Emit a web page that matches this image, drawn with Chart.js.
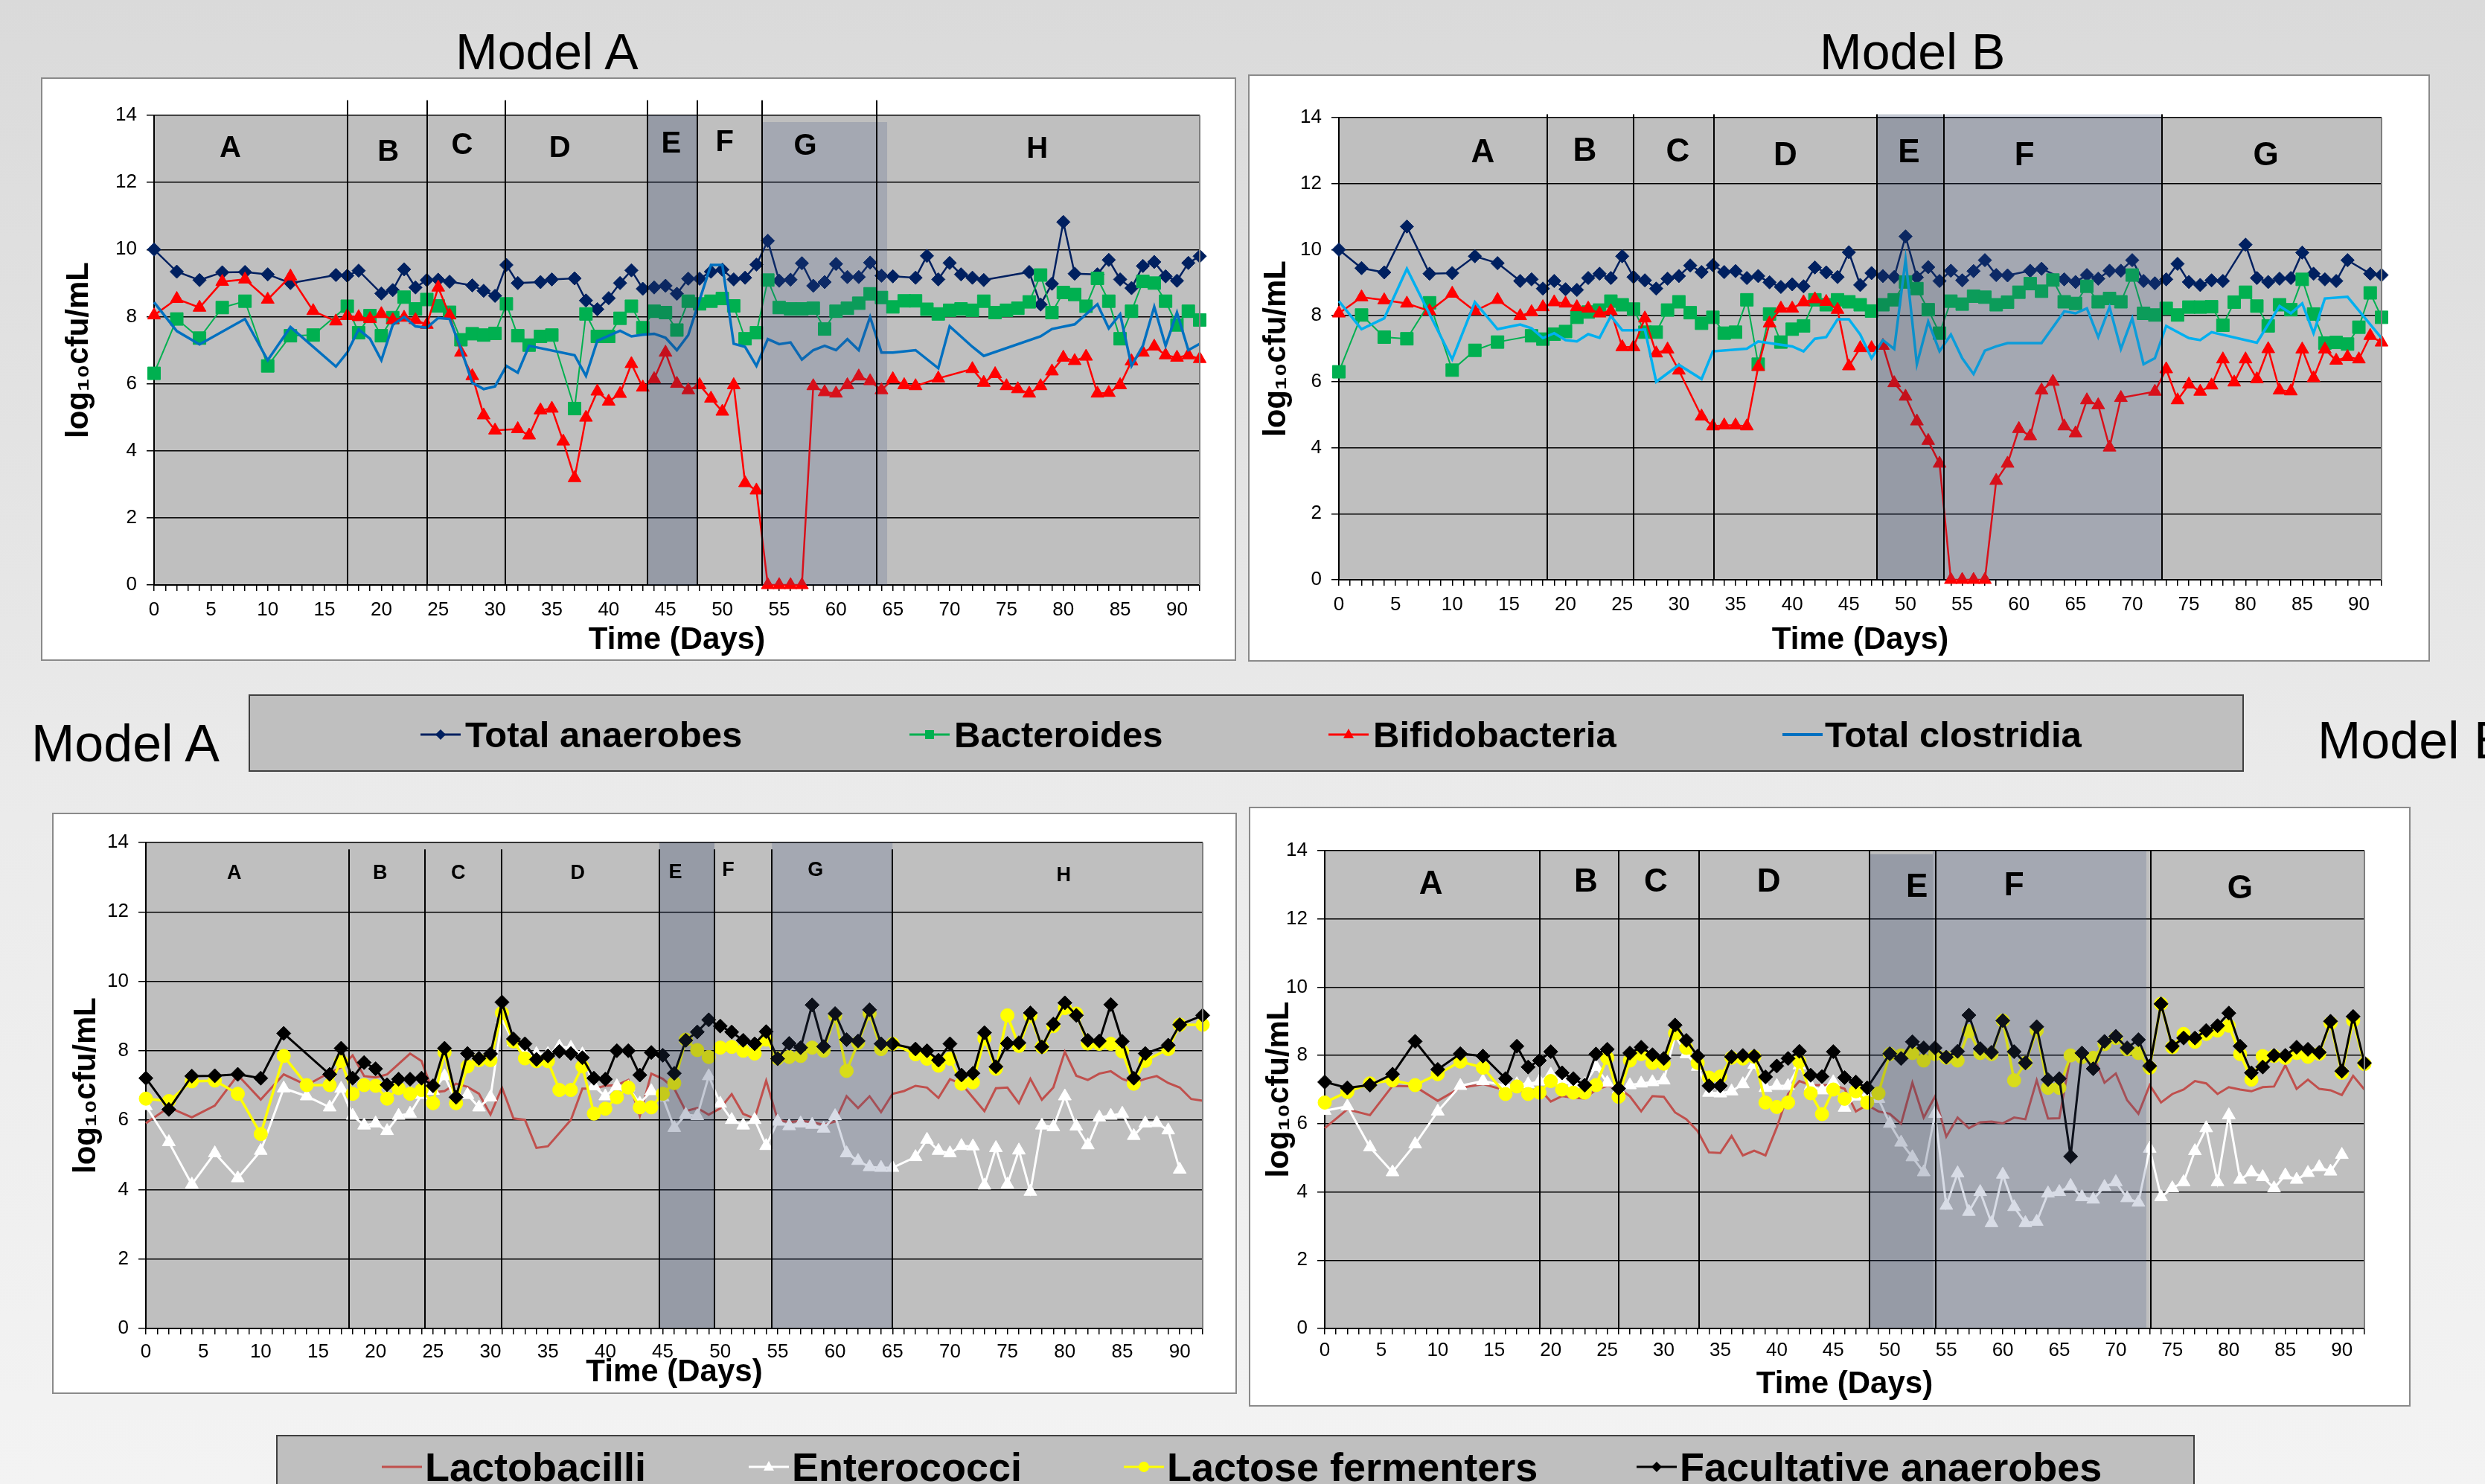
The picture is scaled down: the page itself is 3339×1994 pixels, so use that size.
<!DOCTYPE html>
<html>
<head>
<meta charset="utf-8">
<title>Model A / Model B</title>
<script src="https://cdn.jsdelivr.net/npm/chart.js@4.4.1/dist/chart.umd.min.js"></script>
<style>
html, body { margin: 0; padding: 0; }
body {
  width: 3339px; height: 1994px; overflow: hidden; position: relative;
  background: linear-gradient(180deg, #dadada 0%, #ebebeb 55%, #f3f3f3 100%);
  font-family: "Liberation Sans", Arial, sans-serif;
}
.ttl { position: absolute; font-size: 68px; line-height: 68px; color: #000; white-space: nowrap; }
.panel { position: absolute; background: #fff; outline: 2px solid #8a8a8a; }
.panel canvas { position: absolute; left: 0; top: 0; }
.legend { position: absolute; background: #bfbfbf; border: 2px solid #3f3f3f; box-sizing: border-box; }
.item { position: absolute; font-weight: bold; white-space: nowrap; color: #000; }
.mark { position: absolute; }
</style>
</head>
<body>

<div class="ttl" style="left:612px;top:35px">Model A</div>
<div class="ttl" style="left:2445px;top:35px">Model B</div>
<div class="ttl" style="left:42px;top:964px;font-size:70px;line-height:70px">Model A</div>
<div class="ttl" style="left:3114px;top:960px;font-size:70px;line-height:70px">Model B</div>

<div class="panel" style="left:57px;top:106px;width:1602px;height:780px"><canvas id="topA" width="1602" height="780"></canvas></div>
<div class="panel" style="left:1679px;top:102px;width:1584px;height:785px"><canvas id="topB" width="1584" height="785"></canvas></div>
<div class="panel" style="left:72px;top:1094px;width:1588px;height:777px"><canvas id="botA" width="1588" height="777"></canvas></div>
<div class="panel" style="left:1680px;top:1086px;width:1557px;height:802px"><canvas id="botB" width="1557" height="802"></canvas></div>

<div class="legend" style="left:334px;top:933px;width:2681px;height:104px"></div>
<svg class="mark" style="left:565px;top:972px" width="54" height="30"><line x1="0" y1="15" x2="54" y2="15" stroke="#002060" stroke-width="3"/><polygon points="27,8 34,15 27,22 20,15" fill="#002060"/></svg>
<div class="item" style="left:625px;top:957px;font-size:49px;line-height:60px">Total anaerobes</div>
<svg class="mark" style="left:1222px;top:972px" width="54" height="30"><line x1="0" y1="15" x2="54" y2="15" stroke="#00b050" stroke-width="3"/><rect x="21" y="9" width="12" height="12" fill="#00b050"/></svg>
<div class="item" style="left:1282px;top:957px;font-size:49px;line-height:60px">Bacteroides</div>
<svg class="mark" style="left:1785px;top:972px" width="54" height="30"><line x1="0" y1="15" x2="54" y2="15" stroke="#ff0000" stroke-width="3"/><polygon points="27,7 34,20 20,20" fill="#ff0000"/></svg>
<div class="item" style="left:1845px;top:957px;font-size:49px;line-height:60px">Bifidobacteria</div>
<svg class="mark" style="left:2395px;top:972px" width="54" height="30"><line x1="0" y1="15" x2="54" y2="15" stroke="#0070c0" stroke-width="4"/></svg>
<div class="item" style="left:2452px;top:957px;font-size:49px;line-height:60px">Total clostridia</div>

<div class="legend" style="left:371px;top:1928px;width:2578px;height:120px"></div>
<svg class="mark" style="left:513px;top:1956px" width="54" height="30"><line x1="0" y1="15" x2="54" y2="15" stroke="#c0504d" stroke-width="3"/></svg>
<div class="item" style="left:571px;top:1938px;font-size:54px;line-height:66px">Lactobacilli</div>
<svg class="mark" style="left:1006px;top:1956px" width="54" height="30"><line x1="0" y1="15" x2="54" y2="15" stroke="#ffffff" stroke-width="3"/><polygon points="27,7 34,20 20,20" fill="#ffffff"/></svg>
<div class="item" style="left:1064px;top:1938px;font-size:54px;line-height:66px">Enterococci</div>
<svg class="mark" style="left:1510px;top:1956px" width="54" height="30"><line x1="0" y1="15" x2="54" y2="15" stroke="#ffff00" stroke-width="3"/><circle cx="27" cy="15" r="7" fill="#ffff00"/></svg>
<div class="item" style="left:1568px;top:1938px;font-size:54px;line-height:66px">Lactose fermenters</div>
<svg class="mark" style="left:2199px;top:1956px" width="54" height="30"><line x1="0" y1="15" x2="54" y2="15" stroke="#000000" stroke-width="3"/><polygon points="27,8 34,15 27,22 20,15" fill="#000000"/></svg>
<div class="item" style="left:2257px;top:1938px;font-size:54px;line-height:66px">Facultative anaerobes</div>

<script>
// ---- Model A, top chart (days / log10 cfu/mL)
const aAnaDays = [0,2,4,6,8,10,12,16,17,18,20,21,22,23,24,25,26,28,29,30,31,32,34,35,37,38,39,40,41,42,43,44,45,46,47,48,49,50,51,52,53,54,55,56,57,58,59,60,61,62,63,64,65,67,68,69,70,71,72,73,77,78,79,80,81,83,84,85,86,87,88,89,90,91,92]
const aAna = [10.0,9.34,9.09,9.32,9.33,9.26,9.0,9.24,9.22,9.37,8.69,8.79,9.41,8.87,9.09,9.10,9.04,8.93,8.77,8.62,9.54,9.0,9.03,9.11,9.14,8.48,8.22,8.55,9.0,9.38,8.83,8.87,8.92,8.68,9.13,9.13,9.34,9.40,9.11,9.16,9.55,10.26,9.07,9.10,9.59,8.92,9.03,9.57,9.18,9.18,9.61,9.22,9.20,9.16,9.81,9.11,9.60,9.26,9.16,9.09,9.33,8.36,8.98,10.82,9.28,9.26,9.69,9.11,8.85,9.51,9.63,9.20,9.07,9.60,9.80]

const aBacDays = [0,2,4,6,8,10,12,14,17,18,19,20,21,22,23,24,25,26,27,28,29,30,31,32,33,34,35,37,38,39,40,41,42,43,44,45,46,47,48,49,50,51,52,53,54,55,56,57,58,59,60,61,62,63,64,65,66,67,68,69,70,71,72,73,74,75,76,77,78,79,80,81,82,83,84,85,86,87,88,89,90,91,92]
const aBac = [6.31,7.93,7.36,8.27,8.46,6.53,7.43,7.45,8.31,7.52,8.03,7.43,7.97,8.58,8.23,8.51,8.32,8.13,7.31,7.49,7.45,7.50,8.38,7.43,7.15,7.41,7.45,5.26,8.08,7.41,7.41,7.95,8.31,7.67,8.16,8.12,7.60,8.46,8.38,8.46,8.54,8.32,7.34,7.52,9.09,8.27,8.23,8.23,8.25,7.63,8.16,8.25,8.40,8.68,8.57,8.29,8.47,8.47,8.22,8.08,8.19,8.23,8.19,8.46,8.12,8.19,8.25,8.44,9.24,8.12,8.72,8.66,8.31,9.14,8.46,7.34,8.16,9.05,9.0,8.46,7.75,8.16,7.90]

const aBifDays = [0,2,4,6,8,10,12,14,16,17,18,19,20,21,22,23,24,25,26,27,28,29,30,32,33,34,35,36,37,38,39,40,41,42,43,44,45,46,47,48,49,50,51,52,53,54,55,56,57,58,59,60,61,62,63,64,65,66,67,69,72,73,74,75,76,77,78,79,80,81,82,83,84,85,86,87,88,89,90,91,92]
const aBif = [8.04,8.53,8.27,9.04,9.11,8.51,9.2,8.17,7.86,8.02,7.99,7.93,8.08,7.90,7.97,7.90,7.76,8.87,8.04,6.93,6.23,5.06,4.61,4.65,4.46,5.21,5.26,4.28,3.19,4.99,5.77,5.47,5.70,6.59,5.89,6.14,6.93,6.0,5.81,5.96,5.56,5.17,5.96,3.04,2.82,0,0,0,0,5.93,5.75,5.71,5.96,6.22,6.08,5.81,6.14,5.96,5.93,6.16,6.44,6.03,6.29,5.93,5.84,5.71,5.93,6.37,6.78,6.68,6.81,5.71,5.73,5.96,6.67,6.93,7.11,6.85,6.78,6.85,6.74]

const aCloDays = [0,2,4,8,10,12,16,17,18,19,20,21,22,23,24,25,26,27,28,29,30,31,32,33,37,38,39,41,42,43,44,45,46,47,48,49,50,51,52,53,54,55,56,57,58,59,60,61,62,63,64,65,67,69,70,72,73,78,79,81,83,84,85,86,87,88,89,90,91,92]
const aClo = [8.43,7.57,7.17,7.93,6.70,7.69,6.51,6.93,7.62,7.34,6.70,7.75,7.99,7.71,7.67,7.96,7.93,7.04,6.03,5.84,5.92,6.53,6.33,7.13,6.85,6.23,7.28,7.58,7.41,7.46,7.49,7.37,7.0,7.45,8.5,9.54,9.54,7.19,7.10,6.53,7.33,7.18,7.23,6.72,7.0,7.13,7.0,7.33,7.0,7.99,6.93,6.93,7.0,6.46,7.71,7.10,6.83,7.41,7.63,7.77,8.37,7.65,8.07,6.53,7.13,8.29,7.13,8.12,7.0,7.19]

// ---- Model B, top chart
const bAnaDays = [0,2,4,6,8,10,12,14,16,17,18,19,20,21,22,23,24,25,26,27,28,29,30,31,32,33,34,35,36,37,38,39,40,41,42,43,44,45,46,47,48,49,50,51,52,53,54,55,56,57,58,59,61,62,64,65,66,67,68,69,70,71,72,73,74,75,76,77,78,80,81,82,83,84,85,86,87,88,89,91,92]
const bAna = [10.0,9.44,9.31,10.70,9.27,9.29,9.80,9.59,9.05,9.10,8.82,9.05,8.80,8.78,9.14,9.27,9.14,9.80,9.17,9.07,8.82,9.12,9.20,9.52,9.32,9.53,9.32,9.35,9.14,9.20,9.01,8.87,8.95,8.89,9.46,9.31,9.17,9.92,8.93,9.29,9.20,9.17,10.40,9.16,9.47,9.05,9.36,9.07,9.35,9.68,9.23,9.22,9.36,9.42,9.10,9.02,9.23,9.12,9.36,9.36,9.68,9.05,8.98,9.10,9.57,9.02,8.93,9.07,9.05,10.15,9.14,9.02,9.12,9.14,9.91,9.27,9.10,9.05,9.68,9.27,9.23]

const bBacDays = [0,2,4,6,8,10,12,14,17,18,19,20,21,22,23,24,25,26,27,28,29,30,31,32,33,34,35,36,37,38,39,40,41,42,43,44,45,46,47,48,49,50,51,52,53,54,55,56,57,58,59,60,61,62,63,64,65,66,67,68,69,70,71,72,73,74,75,76,77,78,79,80,81,82,83,84,85,86,87,88,89,90,91,92]
const bBac = [6.30,8.02,7.35,7.30,8.39,6.35,6.95,7.20,7.39,7.29,7.44,7.52,7.95,8.11,8.17,8.44,8.33,8.20,7.50,7.50,8.17,8.42,8.09,7.77,7.95,7.47,7.50,8.48,6.53,8.05,7.20,7.59,7.69,8.48,8.33,8.48,8.42,8.33,8.14,8.33,8.48,9.02,8.82,8.18,7.47,8.44,8.35,8.59,8.56,8.33,8.41,8.71,8.97,8.74,9.08,8.42,8.37,8.89,8.42,8.52,8.42,9.23,8.07,8.02,8.22,8.02,8.26,8.26,8.27,7.71,8.41,8.71,8.29,7.69,8.33,8.18,9.10,8.05,7.17,7.19,7.14,7.65,8.69,7.95]

const bBifDays = [0,2,4,6,8,10,12,14,16,17,18,19,20,21,22,23,24,25,26,27,28,29,30,32,33,34,35,36,37,38,39,40,41,42,43,44,45,46,47,48,49,50,51,52,53,54,55,56,57,58,59,60,61,62,63,64,65,66,67,68,69,72,73,74,75,76,77,78,79,80,81,82,83,84,85,86,87,88,89,90,91,92]
const bBif = [8.07,8.56,8.47,8.37,8.14,8.67,8.14,8.48,7.99,8.11,8.26,8.41,8.37,8.26,8.22,8.07,8.14,7.05,7.05,7.92,6.86,6.98,6.34,4.95,4.65,4.68,4.68,4.65,6.45,7.77,8.22,8.22,8.41,8.50,8.42,8.18,6.47,7.02,7.02,7.09,5.96,5.55,4.80,4.21,3.52,0,0,0,0,3.0,3.52,4.57,4.35,5.74,6.0,4.65,4.44,5.44,5.29,4.01,5.51,5.70,6.38,5.44,5.92,5.70,5.89,6.68,5.98,6.68,6.08,6.99,5.74,5.71,6.98,6.11,6.98,6.64,6.75,6.68,7.39,7.19]

const bCloDays = [0,2,4,6,10,12,14,16,17,18,19,20,21,22,23,24,25,26,27,28,30,32,33,36,37,40,41,42,43,44,45,46,47,48,49,50,51,52,53,54,55,56,57,58,59,62,64,65,66,67,68,69,70,71,72,73,75,76,77,81,83,84,85,86,87,89,92]
const bClo = [8.44,7.59,7.92,9.42,6.68,8.41,7.59,7.73,7.62,7.32,7.47,7.26,7.22,7.44,7.33,7.99,7.56,7.56,7.58,6.0,6.51,6.08,6.92,7.0,7.22,7.07,6.92,7.30,7.35,7.89,7.89,7.43,6.71,7.26,6.99,9.70,6.53,7.82,6.92,7.43,6.71,6.23,6.94,7.07,7.17,7.17,8.13,8.07,8.22,7.35,8.26,6.99,7.92,6.53,6.71,7.69,7.32,7.26,7.50,7.18,8.29,8.07,8.37,7.47,8.52,8.57,7.32]

// ---- Model A, bottom chart
const aFacDays = [0,2,4,6,8,10,12,16,17,18,19,20,21,22,23,24,25,26,27,28,29,30,31,32,33,34,35,36,37,38,39,40,41,42,43,44,45,46,47,48,49,50,51,52,53,54,55,56,57,58,59,60,61,62,63,64,65,67,68,69,70,71,72,73,74,75,76,77,78,79,80,81,82,83,84,85,86,87,89,90,92]
const aFac = [7.21,6.31,7.27,7.28,7.32,7.21,8.50,7.32,8.07,7.21,7.66,7.48,7.02,7.18,7.18,7.21,6.99,8.07,6.66,7.92,7.78,7.91,9.40,8.34,8.20,7.75,7.85,7.98,7.92,7.80,7.21,7.18,8.0,8.0,7.30,7.95,7.87,7.35,8.30,8.54,8.89,8.71,8.54,8.30,8.20,8.55,7.77,8.21,8.09,9.32,8.12,9.07,8.32,8.28,9.18,8.20,8.20,8.05,8.0,7.73,8.20,7.30,7.35,8.52,7.54,8.21,8.23,9.09,8.11,8.77,9.38,9.02,8.30,8.28,9.33,8.27,7.21,7.92,8.16,8.75,9.02]

const aLacDays = [0,2,4,6,8,10,12,14,16,17,18,19,20,21,22,23,24,25,26,27,28,29,30,31,32,33,34,35,36,37,38,39,40,41,42,43,44,45,46,47,48,49,50,51,52,53,54,55,56,57,58,59,60,61,62,63,64,65,67,68,69,70,71,72,73,74,75,76,77,78,79,80,81,82,83,84,85,86,87,89,90,92]
const aLac = [6.62,6.55,7.12,7.14,6.76,5.60,7.85,7.01,7.01,7.70,6.76,7.01,6.99,6.62,6.92,6.76,6.87,6.49,7.95,6.49,7.55,7.73,7.73,9.09,8.27,7.78,7.70,7.70,6.87,6.87,7.55,6.19,6.33,6.66,6.94,6.37,6.37,6.76,7.07,8.32,8.02,7.82,8.09,8.11,8.0,7.92,8.32,7.78,7.82,7.85,8.09,8.0,9.0,7.42,8.23,9.07,8.05,8.20,7.90,7.77,7.57,7.77,7.05,7.09,8.35,7.48,9.02,8.14,9.0,8.11,8.71,9.23,9.07,8.21,8.20,8.20,7.98,7.05,7.71,8.05,8.75,8.75]

const aEntDays = [0,2,4,6,8,10,12,14,16,17,18,19,20,21,22,23,24,25,26,27,28,29,30,31,32,33,34,35,36,37,38,39,40,41,42,43,44,45,46,47,48,49,50,51,52,53,54,55,56,57,58,59,60,61,62,63,64,65,67,68,69,70,71,72,73,74,75,76,77,78,79,80,81,82,83,84,85,86,87,88,89,90]
const aEnt = [6.41,5.37,4.15,5.05,4.33,5.12,6.92,6.69,6.37,6.91,6.13,5.85,5.91,5.69,6.13,6.19,6.73,6.85,7.27,6.55,6.73,6.37,6.66,8.9,8.25,7.91,7.91,7.91,8.12,8.09,7.9,6.98,6.69,6.98,6.95,6.48,6.84,6.66,5.78,6.16,6.12,7.27,6.48,6.01,5.85,6.01,5.26,5.96,5.83,5.91,5.87,5.76,6.12,5.05,4.83,4.65,4.63,4.63,4.94,5.44,5.12,5.05,5.26,5.25,4.12,5.20,4.15,5.13,3.94,5.85,5.80,6.69,5.82,5.28,6.08,6.13,6.19,5.55,5.91,5.92,5.71,4.58]

const aLbcDays = [0,2,4,6,8,10,12,14,16,17,18,19,20,21,22,23,24,25,26,27,28,29,30,31,32,33,34,35,37,38,39,40,41,42,43,44,45,46,47,48,49,50,51,52,53,54,55,56,57,58,59,60,61,62,63,64,65,66,67,68,69,70,71,73,74,75,76,77,78,79,80,81,82,83,84,85,86,87,88,89,90,91,92]
const aLbc = [5.91,6.37,6.08,6.42,7.30,6.59,7.32,7.01,7.37,7.52,7.87,7.27,7.23,7.32,7.62,7.92,7.70,6.80,6.84,7.05,6.96,6.76,6.16,6.94,6.05,6.01,5.20,5.25,6.01,6.91,6.91,6.99,7.01,7.16,6.12,7.34,7.19,6.91,6.26,6.35,6.16,6.34,6.75,6.18,6.05,7.14,6.01,5.94,5.98,5.94,5.87,5.96,6.69,6.35,6.69,6.23,6.76,6.84,6.99,6.94,6.64,7.18,7.05,6.26,6.92,6.94,6.49,7.19,6.59,6.94,7.97,7.28,7.16,7.34,7.41,7.19,7.07,7.19,7.27,7.07,6.94,6.61,6.56]

// ---- Model B, bottom chart
const bFacDays = [0,2,4,6,8,10,12,14,16,17,18,19,20,21,22,23,24,25,26,27,28,29,30,31,32,33,34,35,36,37,38,39,40,41,42,43,44,45,46,47,48,50,51,52,53,54,55,56,57,58,59,60,61,62,63,64,65,66,67,68,69,70,71,72,73,74,75,76,77,78,79,80,81,82,83,84,85,86,87,88,89,90,91,92]
const bFac = [7.22,7.05,7.13,7.45,8.41,7.59,8.05,7.98,7.32,8.27,7.66,7.85,8.11,7.49,7.32,7.13,8.04,8.18,7.03,8.07,8.24,8.02,7.91,8.89,8.44,7.98,7.11,7.11,7.96,8.0,7.98,7.37,7.69,7.91,8.12,7.42,7.38,8.11,7.35,7.22,7.05,8.05,7.91,8.40,8.22,8.22,7.95,8.12,9.18,8.20,8.09,9.02,8.11,7.78,8.84,7.29,7.32,5.04,8.07,7.61,8.41,8.56,8.22,8.46,7.69,9.51,8.27,8.51,8.51,8.73,8.87,9.24,8.27,7.49,7.66,8.0,8.0,8.24,8.18,8.09,9.0,7.54,9.14,7.78]

const bLacDays = [0,2,4,6,8,10,12,14,16,17,18,19,20,21,22,23,24,25,26,27,28,29,30,31,32,33,34,35,36,37,38,39,40,41,42,43,44,45,46,47,48,49,50,51,52,53,54,55,56,57,58,59,60,61,62,63,64,65,66,67,68,69,70,71,72,73,74,75,76,77,78,79,80,81,82,83,84,85,86,87,88,89,90,91,92]
const bLac = [6.62,6.93,7.18,7.27,7.13,7.45,7.82,7.64,6.87,7.09,6.87,6.91,7.25,7.0,6.91,6.91,7.13,7.93,6.79,7.85,8.04,7.78,7.76,8.65,8.22,7.78,7.35,7.38,7.93,7.91,7.96,6.62,6.49,6.62,7.82,6.89,6.28,7.0,6.73,6.95,6.62,6.89,8.04,8.0,8.07,7.85,8.04,7.93,7.85,8.71,8.07,8.04,9.02,7.27,7.78,8.73,7.05,7.05,8.0,7.95,7.93,8.33,8.51,8.18,8.07,7.64,9.51,8.24,8.63,8.40,8.63,8.73,8.87,8.04,7.29,7.98,7.98,7.93,8.07,7.96,8.05,8.95,7.49,9.02,7.75]

const bEntDays = [0,2,4,6,8,10,12,14,16,17,18,19,20,21,22,23,24,25,26,27,28,29,30,31,32,33,34,35,36,37,38,39,40,41,42,43,44,45,46,47,48,49,50,51,52,53,54,55,56,57,58,59,60,61,62,63,64,65,66,67,68,69,70,71,72,73,74,75,76,77,78,79,80,81,82,83,84,85,86,87,88,89,90]
const bEnt = [6.38,6.51,5.31,4.58,5.40,6.36,7.11,7.25,7.11,7.16,7.16,7.24,7.44,7.27,7.16,7.16,7.67,7.20,7.0,7.13,7.18,7.22,7.27,8.58,8.04,7.67,6.91,6.89,6.95,7.16,7.73,7.05,7.11,7.11,7.71,7.11,6.98,7.22,6.47,6.8,6.85,6.73,6.0,5.45,5.02,4.58,6.29,3.6,4.55,3.42,4.0,3.09,4.51,3.56,3.09,3.13,3.96,4.0,4.18,3.85,3.78,4.15,4.29,3.82,3.69,5.27,3.85,4.11,4.29,5.2,5.87,4.29,6.25,4.36,4.58,4.44,4.11,4.49,4.36,4.56,4.73,4.60,5.09]

const bLbcDays = [0,2,4,6,8,10,12,14,16,18,19,20,21,22,23,24,25,26,27,28,29,30,31,32,33,34,35,36,37,38,39,40,41,42,43,44,45,46,47,48,49,50,51,52,53,54,55,56,57,58,59,60,61,62,63,64,65,66,67,68,69,70,71,72,73,74,75,76,77,78,79,80,81,82,83,84,85,86,87,88,89,90,91,92]
const bLbc = [5.87,6.42,6.25,7.11,7.09,6.67,7.05,7.16,6.98,6.95,7.02,6.65,6.81,6.76,6.74,7.0,7.11,7.05,6.80,6.36,6.81,6.79,6.33,6.13,5.78,5.16,5.14,5.64,5.07,5.21,5.07,5.89,6.87,7.25,7.13,7.13,7.13,7.02,6.36,6.55,6.36,6.29,6.0,7.2,6.18,6.8,5.62,6.18,5.87,6.04,6.06,6.01,6.18,6.13,7.27,6.15,6.16,8.0,7.9,8.0,7.2,7.47,6.69,6.29,7.13,6.62,6.87,7.0,7.25,7.18,6.87,7.07,7.0,6.95,7.07,7.09,7.71,7.02,7.29,7.02,6.98,6.84,7.40,7.0]

// ---- phase boundaries (day), shaded phases and phase letters
const phasesTopA = { lines: [17.0, 24.0, 30.9, 43.4, 47.8, 53.5, 63.6], lineTop: 14.45,
  shades: [[43.4, 47.8, 14, 'dark'], [53.5, 64.5, 13.8, 'light']],
  letters: ['A','B','C','D','E','F','G','H'], letterX: [6.7, 20.6, 27.1, 35.7, 45.5, 50.2, 57.3, 77.7],
  letterY: [13.0, 12.9, 13.1, 13.0, 13.13, 13.18, 13.07, 12.98], size: 40 }
const phasesTopB = { lines: [18.4, 26.0, 33.1, 47.5, 53.4, 72.6], lineTop: 14.1,
  shades: [[47.5, 53.4, 14.1, 'dark'], [53.4, 72.6, 14.1, 'light']],
  letters: ['A','B','C','D','E','F','G'], letterX: [12.7, 21.7, 29.9, 39.4, 50.3, 60.5, 81.8],
  letterY: [12.93, 12.97, 12.94, 12.82, 12.93, 12.82, 12.82], size: 44 }
const phasesBotA = { lines: [17.7, 24.3, 31.0, 44.7, 49.5, 54.5, 65.0], lineTop: 13.8,
  shades: [[44.7, 49.5, 14, 'dark'], [54.5, 65.0, 14, 'light']],
  letters: ['A','B','C','D','E','F','G','H'], letterX: [7.7, 20.4, 27.2, 37.6, 46.1, 50.7, 58.3, 79.9],
  letterY: [13.1, 13.1, 13.1, 13.1, 13.13, 13.2, 13.2, 13.05], size: 27 }
const phasesBotB = { lines: [19.0, 26.0, 33.1, 48.2, 54.1, 73.1], lineTop: 14,
  shades: [[48.2, 53.8, 13.9, 'dark'], [53.8, 72.7, 14, 'light']],
  letters: ['A','B','C','D','E','F','G'], letterX: [9.4, 23.1, 29.3, 39.3, 52.4, 61.0, 81.0],
  letterY: [12.99, 13.07, 13.07, 13.07, 12.92, 12.95, 12.87], size: 44 }

const FONT = '"Liberation Sans", Arial, sans-serif'
Chart.defaults.font.family = FONT
Chart.defaults.color = '#000'

const shadeColor = { dark: 'rgba(40,60,100,0.27)', light: 'rgba(60,80,130,0.2)' }

function phasePlugin(ph) {
  return {
    id: 'phases',
    beforeDraw(chart) {
      const { ctx, chartArea: a } = chart
      ctx.save()
      ctx.fillStyle = '#bfbfbf'
      ctx.fillRect(a.left, a.top, a.width, a.height)
      ctx.restore()
    },
    afterDatasetsDraw(chart) {
      const { ctx, chartArea: a, scales: { x, y } } = chart
      ctx.save()
      ph.shades.forEach(s => {
        const x0 = x.getPixelForValue(s[0]), x1 = x.getPixelForValue(s[1])
        const y0 = y.getPixelForValue(s[2]), y1 = y.getPixelForValue(0)
        ctx.fillStyle = shadeColor[s[3]]
        ctx.fillRect(x0, y0, x1 - x0, y1 - y0)
      })
      ctx.strokeStyle = '#000'
      ctx.lineWidth = 2
      ph.lines.forEach(d => {
        const px = Math.round(x.getPixelForValue(d))
        ctx.beginPath()
        ctx.moveTo(px, y.getPixelForValue(ph.lineTop))
        ctx.lineTo(px, y.getPixelForValue(0))
        ctx.stroke()
      })
      ctx.strokeStyle = '#7f7f7f'
      ctx.beginPath()
      ctx.moveTo(a.right, a.top)
      ctx.lineTo(a.right, a.bottom)
      ctx.stroke()
      ctx.fillStyle = '#000'
      ctx.font = 'bold ' + ph.size + 'px ' + FONT
      ctx.textAlign = 'center'
      ctx.textBaseline = 'middle'
      ph.letters.forEach((t, i) => {
        ctx.fillText(t, x.getPixelForValue(ph.letterX[i]), y.getPixelForValue(ph.letterY[i]))
      })
      ctx.restore()
    }
  }
}

function series(label, days, vals, style) {
  return Object.assign({
    label: label,
    data: days.map((d, i) => ({ x: d, y: vals[i] })),
    tension: 0,
    clip: false,
    pointBorderWidth: 1
  }, style)
}

const navy = { borderColor: '#002060', backgroundColor: '#002060', pointBorderColor: '#002060', borderWidth: 2.5, pointStyle: 'rectRot', pointRadius: 9 }
const green = { borderColor: '#00b050', backgroundColor: '#00b050', pointBorderColor: '#00b050', borderWidth: 2, pointStyle: 'rect', pointRadius: 12 }
const red = { borderColor: '#ff0000', backgroundColor: '#ff0000', pointBorderColor: '#ff0000', borderWidth: 2.5, pointStyle: 'triangle', pointRadius: 10 }
const blueA = { borderColor: '#0070c0', borderWidth: 3.5, pointRadius: 0 }
const blueB = { borderColor: '#00b0f0', borderWidth: 3.5, pointRadius: 0 }
const brick = { borderColor: '#c0504d', borderWidth: 3, pointRadius: 0 }
const white = { borderColor: '#ffffff', backgroundColor: '#ffffff', pointBorderColor: '#ffffff', borderWidth: 3, pointStyle: 'triangle', pointRadius: 10 }
const yellow = { borderColor: '#ffff00', backgroundColor: '#ffff00', pointBorderColor: '#ffff00', borderWidth: 3.5, pointStyle: 'circle', pointRadius: 9 }
const black = { borderColor: '#000000', backgroundColor: '#000000', pointBorderColor: '#000000', borderWidth: 3, pointStyle: 'rectRot', pointRadius: 9.5 }

function drawPanel(id, box, datasets, ph) {
  const ctx = document.getElementById(id).getContext('2d')
  return new Chart(ctx, {
    type: 'line',
    data: { datasets: datasets },
    options: {
      responsive: false,
      animation: false,
      devicePixelRatio: 1,
      layout: { padding: { left: 0, top: box.top, right: box.right, bottom: 0 } },
      plugins: { legend: { display: false }, tooltip: { enabled: false } },
      scales: {
        x: {
          type: 'linear', min: 0, max: 92,
          ticks: { stepSize: 1, autoSkip: false, maxRotation: 0, minRotation: 0,
            padding: box.xPad, font: { size: 26 }, color: '#000',
            callback: v => (v % 5 === 0 ? String(v) : '') },
          grid: { drawOnChartArea: false, color: '#000', lineWidth: 1.5, tickLength: 8 },
          border: { color: '#000', width: 2 },
          title: { display: true, text: 'Time (Days)', color: '#000',
            font: { size: 42, weight: 'bold' }, padding: { top: 0, bottom: box.xTitle } },
          afterFit(s) { s.height = box.xh }
        },
        y: {
          min: 0, max: 14,
          ticks: { stepSize: 2, padding: 13, font: { size: 26 }, color: '#000' },
          grid: { color: '#000', lineWidth: 1.5, tickLength: 10 },
          border: { color: '#000', width: 2 },
          title: { display: true, text: 'log₁₀cfu/mL', color: '#000',
            font: { size: 42, weight: 'bold' }, padding: { top: box.yTitle, bottom: 0 } },
          afterFit(s) { s.width = box.yw }
        }
      }
    },
    plugins: [phasePlugin(ph)]
  })
}

drawPanel('topA', { top: 49, right: 47, yw: 150, xh: 100, xPad: 10, xTitle: 0, yTitle: 24 }, [
  series('Total clostridia', aCloDays, aClo, blueA),
  series('Bifidobacteria', aBifDays, aBif, red),
  series('Bacteroides', aBacDays, aBac, green),
  series('Total anaerobes', aAnaDays, aAna, navy)
], phasesTopA)

drawPanel('topB', { top: 56, right: 63, yw: 120, xh: 108, xPad: 10, xTitle: 1, yTitle: 11 }, [
  series('Total clostridia', bCloDays, bClo, blueB),
  series('Bifidobacteria', bBifDays, bBif, red),
  series('Bacteroides', bBacDays, bBac, green),
  series('Total anaerobes', bAnaDays, bAna, navy)
], phasesTopB)

drawPanel('botA', { top: 38, right: 44, yw: 124, xh: 86, xPad: 8, xTitle: 1, yTitle: 19 }, [
  series('Facultative anaerobes', aFacDays, aFac, black),
  series('Lactose fermenters', aLacDays, aLac, yellow),
  series('Enterococci', aEntDays, aEnt, white),
  series('Lactobacilli', aLbcDays, aLbc, brick)
], phasesBotA)

drawPanel('botB', { top: 57, right: 60, yw: 100, xh: 103, xPad: 6, xTitle: 2, yTitle: 14 }, [
  series('Facultative anaerobes', bFacDays, bFac, black),
  series('Lactose fermenters', bLacDays, bLac, yellow),
  series('Enterococci', bEntDays, bEnt, white),
  series('Lactobacilli', bLbcDays, bLbc, brick)
], phasesBotB)
</script>
</body>
</html>
